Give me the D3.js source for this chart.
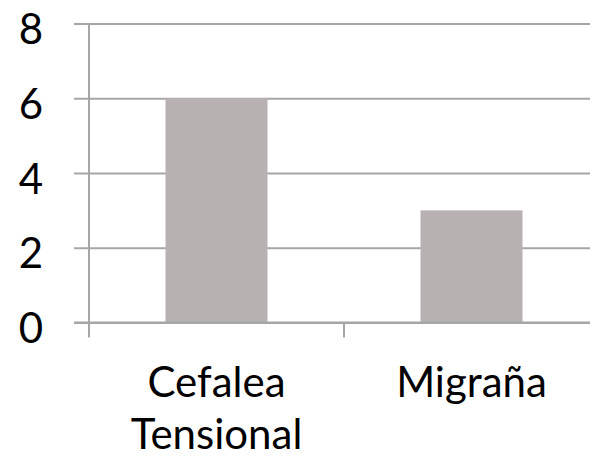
<!DOCTYPE html>
<html lang="es">
<head>
    <meta charset="UTF-8">
    <title>Cefalea</title>
    <script src="https://d3js.org/d3.v7.min.js"></script>
    <style>
        body { margin: 0; background: white; }
        svg { display: block; }
        text { font-family: Lato, "Open Sans", sans-serif; fill: black; }
    </style>
</head>
<body>
    <svg width="590" height="459"></svg>
    <script>
        const categories = ["Cefalea Tensional", "Migraña"];
        const values = [6, 3];
        const yTicks = [0, 2, 4, 6, 8];

        const svg = d3.select("svg");
        const plotLeft = 89, plotRight = 599, plotTop = 23.5, plotBottom = 322.5;
        const gridColor = "#a6a6a6";

        const x = d3.scaleBand().domain(categories).range([plotLeft, plotRight])
            .paddingInner(0.6).paddingOuter(0.3);
        const y = d3.scaleLinear().domain([0, 8]).range([plotBottom, plotTop]);

        // gridlines + y labels
        const yAxis = d3.axisLeft(y).tickValues(yTicks).tickSize(plotRight - 74).tickPadding(31);
        const g = svg.append("g").attr("transform", `translate(${plotRight},0)`).call(yAxis);
        g.select(".domain").remove();
        g.selectAll(".tick line").attr("stroke", gridColor).attr("stroke-width", 2);
        g.selectAll(".tick text").attr("font-size", 42).attr("dy", "0.48em");

        // bars
        svg.selectAll(".bar").data(values).enter()
            .append("rect").attr("class", "bar")
            .attr("x", (d, i) => x(categories[i]))
            .attr("y", d => y(d))
            .attr("width", x.bandwidth())
            .attr("height", d => y(0) - y(d))
            .attr("fill", "#b7b2b1");

        // y axis line and x axis
        svg.append("line")
            .attr("x1", plotLeft).attr("x2", plotLeft)
            .attr("y1", y(8)).attr("y2", y(0) + 15)
            .attr("stroke", gridColor).attr("stroke-width", 2);
        svg.append("line")
            .attr("x1", 74).attr("x2", plotRight)
            .attr("y1", y(0)).attr("y2", y(0))
            .attr("stroke", gridColor).attr("stroke-width", 2);

        const bounds = d3.range(categories.length + 1).map(i => plotLeft + i * x.step());
        svg.selectAll(".xtick").data(bounds.slice(1)).enter()
            .append("line").attr("class", "xtick")
            .attr("x1", d => d).attr("x2", d => d)
            .attr("y1", y(0)).attr("y2", y(0) + 15)
            .attr("stroke", gridColor).attr("stroke-width", 2);

        // category labels, wrapped
        categories.forEach(c => {
            const t = svg.append("text")
                .attr("text-anchor", "middle")
                .attr("font-size", 42)
                .attr("x", x(c) + x.bandwidth() / 2)
                .attr("y", 397);
            c.split(" ").forEach((w, i) => {
                t.append("tspan")
                    .attr("x", x(c) + x.bandwidth() / 2)
                    .attr("dy", i === 0 ? 0 : 52)
                    .text(w);
            });
        });
    </script>
</body>
</html>
